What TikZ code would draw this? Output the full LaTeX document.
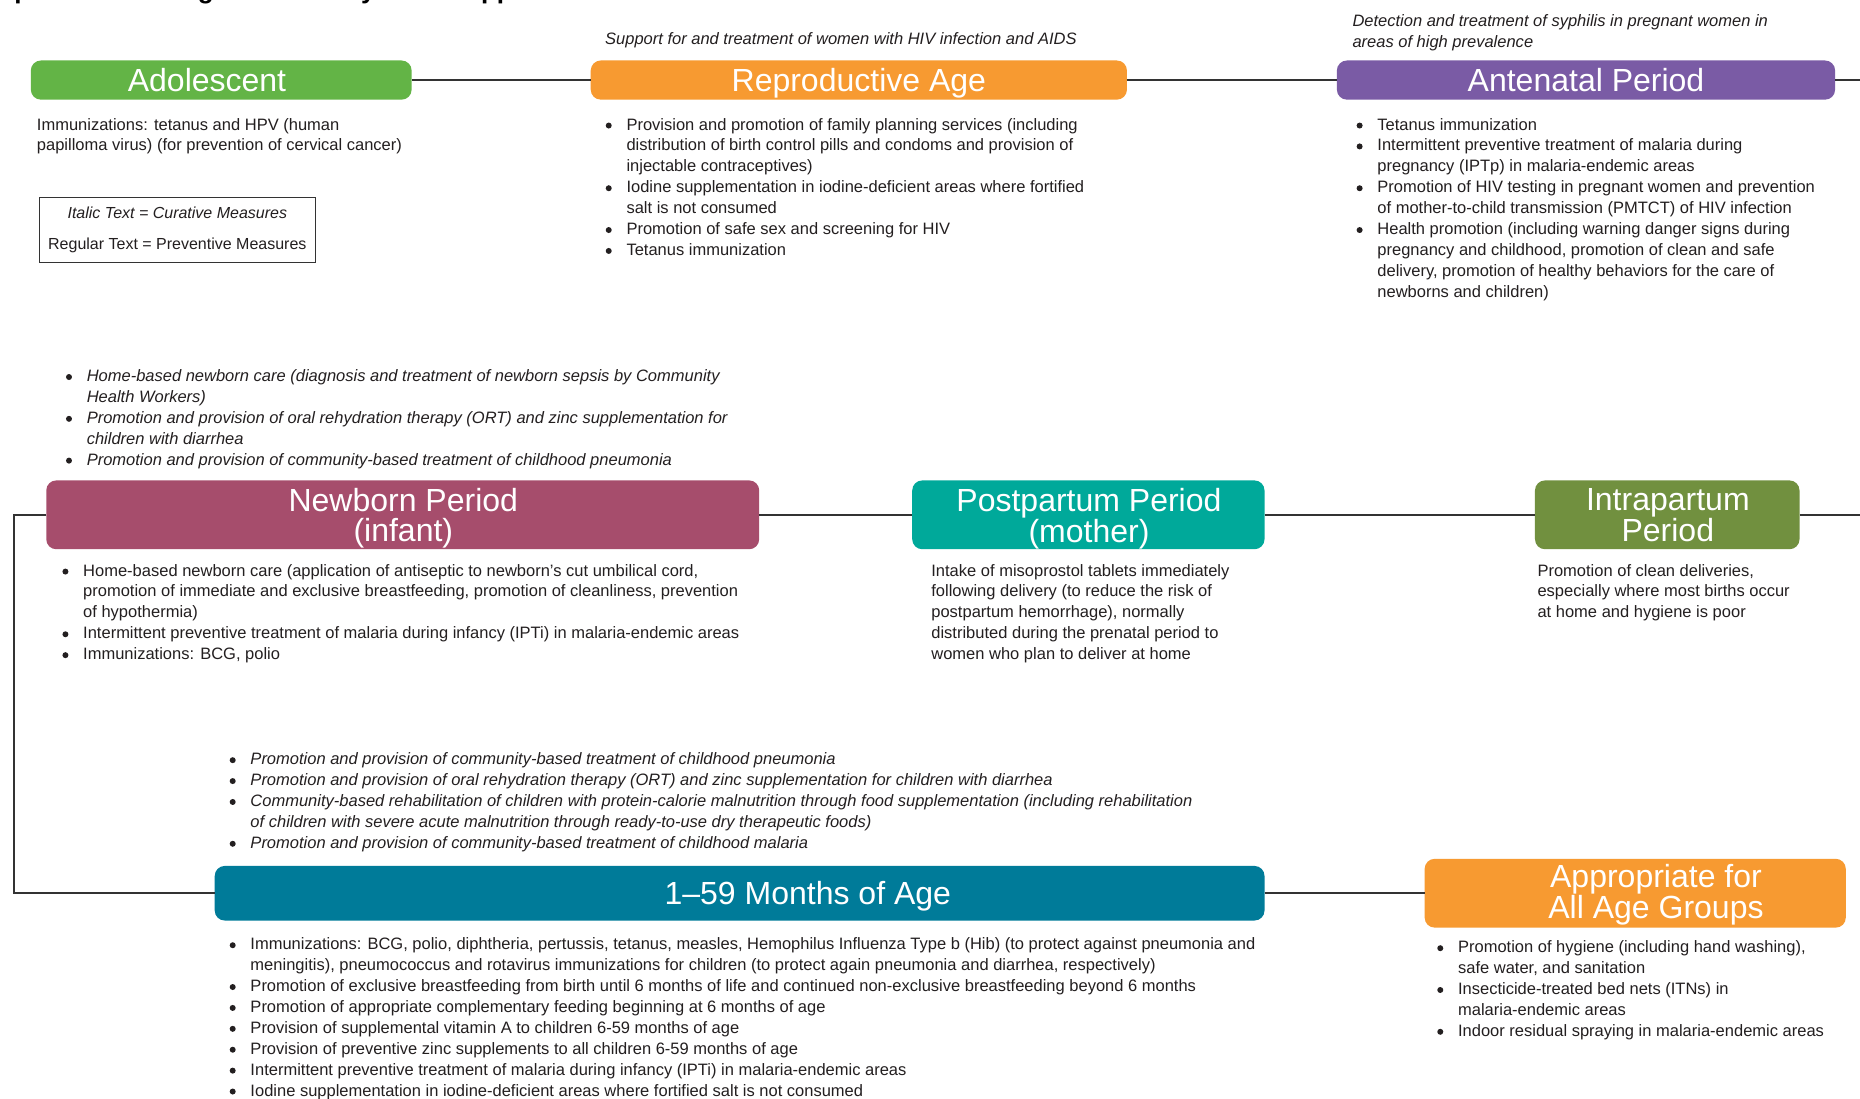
\documentclass[tikz,border=0pt]{standalone}
\usepackage{fontspec}
\setmainfont{Liberation Sans}
\usetikzlibrary{fit}
\definecolor{cgreen}{HTML}{63B446}
\definecolor{corange}{HTML}{F79A31}
\definecolor{cpurple}{HTML}{7A5BA5}
\definecolor{cmaroon}{HTML}{A64D6C}
\definecolor{cteal}{HTML}{00A99A}
\definecolor{colive}{HTML}{71903F}
\definecolor{cblue}{HTML}{007B99}
\definecolor{ctext}{HTML}{231F20}
\definecolor{cline}{HTML}{333333}
\newcommand\fl{\rule{0pt}{13pt}}
\newcommand\bl{\llap{\tikz[baseline=-4.5pt]\fill[ctext] (0,0) circle (3pt);\hspace{14.8pt}}}
\tikzset{
  box/.style={inner sep=0pt, outer sep=0pt, rounded corners=10pt},
  hdr/.style={text=white, align=center, inner sep=0pt, font=\fontsize{32}{29.5}\selectfont},
  hdrone/.style={hdr, text height=23.4pt, text depth=0pt},
  txt/.style={anchor=north west, inner sep=0pt, align=left, text=ctext, font=\fontsize{16.5}{20.9}\selectfont},
  itxt/.style={txt, font=\fontsize{16.5}{20.9}\selectfont\itshape},
  conn/.style={draw=cline, line width=2pt},
}
\begin{document}
\begin{tikzpicture}[x=1.18622pt, y=-1.18622pt]
\fill[white] (0,0) rectangle (1568,926);
\useasboundingbox (0,0) rectangle (1568,926);
\begin{scope}
\clip (0,0) rectangle (1568,926);
\node[anchor=base west, inner sep=0pt, font=\bfseries\fontsize{26}{30}\selectfont] (title) at (12,-1) {provided through community-based approaches};
\end{scope}

% boxes
\node[box, fill=cgreen, fit={(26,51) (347,84)}] (ado) {};
\node[box, fill=corange, fit={(498,51) (950,84)}] (rep) {};
\node[box, fill=cpurple, fit={(1127,51) (1547,84)}] (ant) {};
\node[box, fill=cmaroon, fit={(39,405) (640,463)}] (nb) {};
\node[box, fill=cteal, fit={(769,405) (1066,463)}] (pp) {};
\node[box, fill=colive, fit={(1294,405) (1517,463)}] (ip) {};
\node[box, fill=cblue, fit={(181,730) (1066,776)}] (mo) {};
\node[box, fill=corange, fit={(1201,724) (1556,782)}] (all) {};

% header labels
\node[hdrone] (ado-l) at (174.5,67.5) {Adolescent};
\node[hdrone] (rep-l) at (724,67.5) {Reproductive Age};
\node[hdrone] (ant-l) at (1337,67.5) {Antenatal Period};
\node[hdr] (nb-l) at (340,437) {Newborn Period\\(infant)};
\node[hdr] (pp-l) at (918,437.5) {Postpartum Period\\(mother)};
\node[hdr] (ip-l) at (1406,434.5) {Intrapartum\\Period};
\node[hdrone] (mo-l) at (681,753) {1–59 Months of Age};
\node[hdr] (all-l) at (1396,754.5) {Appropriate for\\All Age Groups};

% connectors
\coordinate (eA) at (1568,67.5);
\coordinate (eB) at (1568,434);
\coordinate (cL) at (12,753);
\draw[conn] (ado.east) -- (rep.west);
\draw[conn] (rep.east) -- (ant.west);
\draw[conn] (ant.east) -- (ant.east -| eA);
\draw[conn] (nb.east) -- (pp.west);
\draw[conn] (pp.east) -- (ip.west);
\draw[conn] (ip.east) -- (ip.east -| eB);
\draw[conn] (nb.west) -| (cL) -- (mo.west);
\draw[conn] (mo.east) -- (all.west);

% legend
\node[draw=cline, line width=1pt, minimum width=276pt, minimum height=65pt, align=center, text=ctext, font=\fontsize{16}{30.8}\selectfont] (legend) at (149.5,193.5) {\itshape Italic Text = Curative Measures\\Regular Text = Preventive Measures};

% notes
\node[itxt] (note1) at (510,26.5) {\fl Support for and treatment of women with HIV infection and AIDS};
\node[itxt] (note2) at (1140,11.5) {\fl Detection and treatment of syphilis in pregnant women in\\areas of high prevalence};

% text blocks
\node[txt] (ado-t) at (31,98.5) {\fl Immunizations: tetanus and HPV (human\\papilloma virus) (for prevention of cervical cancer)};

\node[txt] (rep-t) at (528,98.5) {\fl\bl Provision and promotion of family planning services (including\\
distribution of birth control pills and condoms and provision of\\
injectable contraceptives)\\
\bl Iodine supplementation in iodine-deficient areas where fortified\\
salt is not consumed\\
\bl Promotion of safe sex and screening for HIV\\
\bl Tetanus immunization};

\node[txt] (ant-t) at (1161,98.5) {\fl\bl Tetanus immunization\\
\bl Intermittent preventive treatment of malaria during\\
pregnancy (IPTp) in malaria-endemic areas\\
\bl Promotion of HIV testing in pregnant women and prevention\\
of mother-to-child transmission (PMTCT) of HIV infection\\
\bl Health promotion (including warning danger signs during\\
pregnancy and childhood, promotion of clean and safe\\
delivery, promotion of healthy behaviors for the care of\\
newborns and children)};

\node[itxt] (nb-c) at (73,310.5) {\fl\bl Home-based newborn care (diagnosis and treatment of newborn sepsis by Community\\
Health Workers)\\
\bl Promotion and provision of oral rehydration therapy (ORT) and zinc supplementation for\\
children with diarrhea\\
\bl Promotion and provision of community-based treatment of childhood pneumonia};

\node[txt] (nb-t) at (70,474.5) {\fl\bl Home-based newborn care (application of antiseptic to newborn’s cut umbilical cord,\\
promotion of immediate and exclusive breastfeeding, promotion of cleanliness, prevention\\
of hypothermia)\\
\bl Intermittent preventive treatment of malaria during infancy (IPTi) in malaria-endemic areas\\
\bl Immunizations: BCG, polio};

\node[txt] (pp-t) at (785,474.5) {\fl Intake of misoprostol tablets immediately\\
following delivery (to reduce the risk of\\
postpartum hemorrhage), normally\\
distributed during the prenatal period to\\
women who plan to deliver at home};

\node[txt] (ip-t) at (1296,474.5) {\fl Promotion of clean deliveries,\\
especially where most births occur\\
at home and hygiene is poor};

\node[itxt] (mo-c) at (211,633.5) {\fl\bl Promotion and provision of community-based treatment of childhood pneumonia\\
\bl Promotion and provision of oral rehydration therapy (ORT) and zinc supplementation for children with diarrhea\\
\bl Community-based rehabilitation of children with protein-calorie malnutrition through food supplementation (including rehabilitation\\
of children with severe acute malnutrition through ready-to-use dry therapeutic foods)\\
\bl Promotion and provision of community-based treatment of childhood malaria};

\node[txt] (mo-t) at (211,789.5) {\fl\bl Immunizations: BCG, polio, diphtheria, pertussis, tetanus, measles, Hemophilus Influenza Type b (Hib) (to protect against pneumonia and\\
meningitis), pneumococcus and rotavirus immunizations for children (to protect again pneumonia and diarrhea, respectively)\\
\bl Promotion of exclusive breastfeeding from birth until 6 months of life and continued non-exclusive breastfeeding beyond 6 months\\
\bl Promotion of appropriate complementary feeding beginning at 6 months of age\\
\bl Provision of supplemental vitamin A to children 6-59 months of age\\
\bl Provision of preventive zinc supplements to all children 6-59 months of age\\
\bl Intermittent preventive treatment of malaria during infancy (IPTi) in malaria-endemic areas\\
\bl Iodine supplementation in iodine-deficient areas where fortified salt is not consumed};

\node[txt] (all-t) at (1229,792) {\fl\bl Promotion of hygiene (including hand washing),\\
safe water, and sanitation\\
\bl Insecticide-treated bed nets (ITNs) in\\
malaria-endemic areas\\
\bl Indoor residual spraying in malaria-endemic areas};
\end{tikzpicture}
\end{document}
